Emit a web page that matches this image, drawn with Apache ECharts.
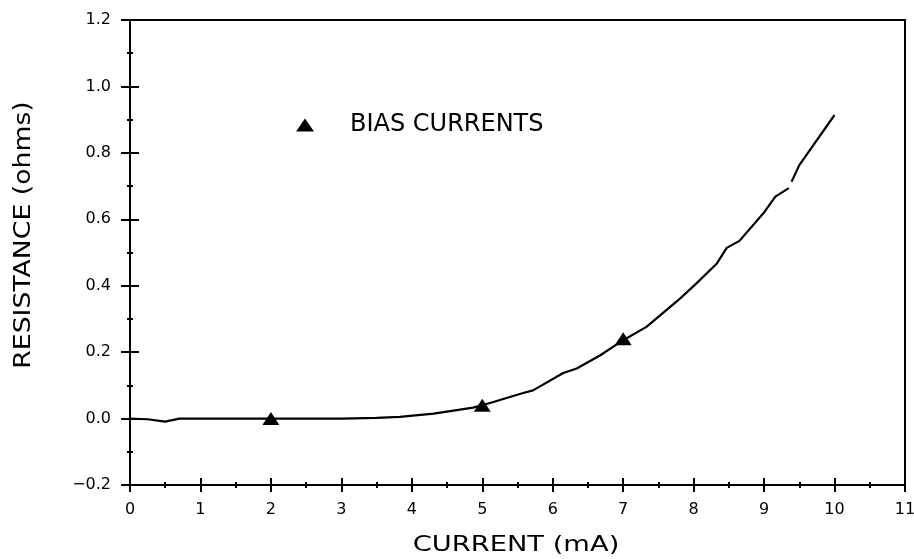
<!DOCTYPE html>
<html>
<head>
<meta charset="utf-8">
<script src="https://cdn.jsdelivr.net/npm/echarts@6/dist/echarts.min.js"></script>
<style>html,body{margin:0;padding:0;background:#fff}#c{width:914px;height:559px}</style>
</head>
<body>
<div id="c"></div>
<script>
// Measured curve: current (mA) vs resistance (ohms); null marks the pen gap
var currentMA = [0, 0.25, 0.5, 0.7, 1.0, 1.5, 2.0, 2.5, 3.0, 3.5, 3.83, 4.31, 4.87, 5.11, 5.58, 5.72, 6.15, 6.34, 6.67, 7.0, 7.33, 7.81, 8.04, 8.33, 8.47, 8.65, 8.99, 9.16, 9.35, 9.37, 9.39, 9.5, 10.0];
var resistance = [0, -0.002, -0.009, 0, 0, 0, 0, 0, 0, 0.002, 0.005, 0.015, 0.033, 0.047, 0.077, 0.085, 0.137, 0.151, 0.19, 0.236, 0.276, 0.362, 0.407, 0.467, 0.514, 0.535, 0.618, 0.668, 0.694, null, 0.713, 0.763, 0.914];
// Bias current markers
var biasCurrent = [2, 5, 7];
var biasResistance = [0, 0.04, 0.24];
// Axis tick settings
var xTicks = {min: 0, max: 11, interval: 1};
var yTicks = {min: -0.2, max: 1.2, interval: 0.2};
var xTitle = 'CURRENT (mA)';
var yTitle = 'RESISTANCE (ohms)';
var legendLabel = 'BIAS CURRENTS';

var lineData = currentMA.map(function (x, i) { return [x, resistance[i] === null ? '-' : resistance[i]]; });
var biasData = biasCurrent.map(function (x, i) { return [x, biasResistance[i]]; });

var FONT = 'DejaVu Sans';
var axisLine = {show: true, onZero: false, lineStyle: {color: '#000', width: 2}};

function xAx(opts) {
  return Object.assign({
    type: 'value', min: xTicks.min, max: xTicks.max, interval: xTicks.interval,
    position: 'bottom', axisLine: axisLine, splitLine: {show: false},
    axisLabel: {show: false}, axisTick: {show: false}, minorTick: {show: false}
  }, opts);
}
function yAx(opts) {
  return Object.assign({
    type: 'value', min: yTicks.min, max: yTicks.max, interval: yTicks.interval,
    position: 'left', axisLine: axisLine, splitLine: {show: false},
    axisLabel: {show: false}, axisTick: {show: false}, minorTick: {show: false}
  }, opts);
}

var chart = echarts.init(document.getElementById('c'), null, {renderer: 'canvas'});
chart.setOption({
  animation: false,
  backgroundColor: '#fff',
  grid: {left: 130, right: 9, top: 20, bottom: 74, containLabel: false, outerBoundsMode: 'none'},
  xAxis: [
    xAx({
      axisTick: {show: true, inside: false, length: 7, lineStyle: {color: '#000', width: 2}},
      minorTick: {show: true, splitNumber: 2, length: 3, lineStyle: {color: '#000', width: 2}},
      axisLabel: {show: true, margin: 17, color: '#000', fontFamily: FONT, fontSize: 16,
        hideOverlap: false, formatter: function (v) { return String(v); }}
    }),
    xAx({
      axisTick: {show: true, inside: true, length: 7, lineStyle: {color: '#000', width: 2}},
      minorTick: {show: true, splitNumber: 2, length: 3, lineStyle: {color: '#000', width: 2}}
    }),
    xAx({position: 'top'})
  ],
  yAxis: [
    yAx({
      axisTick: {show: true, inside: false, length: 9, lineStyle: {color: '#000', width: 2}},
      minorTick: {show: true, splitNumber: 2, length: 3, lineStyle: {color: '#000', width: 2}},
      axisLabel: {show: true, margin: 19, color: '#000', fontFamily: FONT, fontSize: 16,
        hideOverlap: false, formatter: function (v) { return v.toFixed(1).replace('-', '\u2212'); }}
    }),
    yAx({
      axisTick: {show: true, inside: true, length: 9, lineStyle: {color: '#000', width: 2}},
      minorTick: {show: true, splitNumber: 2, length: 3, lineStyle: {color: '#000', width: 2}}
    }),
    yAx({position: 'right'})
  ],
  legend: {
    show: true, left: 291, top: 108, orient: 'horizontal',
    itemWidth: 18, itemHeight: 13, icon: 'triangle',
    data: [{name: legendLabel, icon: 'triangle', itemStyle: {color: '#000', opacity: 1}}],
    textStyle: {color: '#000', fontFamily: FONT, fontSize: 24, padding: [0, 0, 0, 31]}
  },
  graphic: [
    {type: 'text', x: 516, y: 546, scaleX: 1.3,
      style: {text: xTitle, font: '21px "' + FONT + '"', fill: '#000', textAlign: 'center', textVerticalAlign: 'middle'}},
    {type: 'text', x: 24, y: 235, rotation: Math.PI / 2, scaleX: 1.16,
      style: {text: yTitle, font: '23px "' + FONT + '"', fill: '#000', textAlign: 'center', textVerticalAlign: 'middle'}}
  ],
  series: [
    {
      type: 'line', name: 'curve', xAxisIndex: 0, yAxisIndex: 0,
      data: lineData, showSymbol: false, connectNulls: false, smooth: false,
      lineStyle: {color: '#000', width: 2.2}, z: 3
    },
    {
      type: 'scatter', name: legendLabel, xAxisIndex: 0, yAxisIndex: 0,
      data: biasData, symbol: 'triangle', symbolSize: [17, 13],
      itemStyle: {color: '#000', opacity: 1}, z: 4
    }
  ]
});
</script>
</body>
</html>
